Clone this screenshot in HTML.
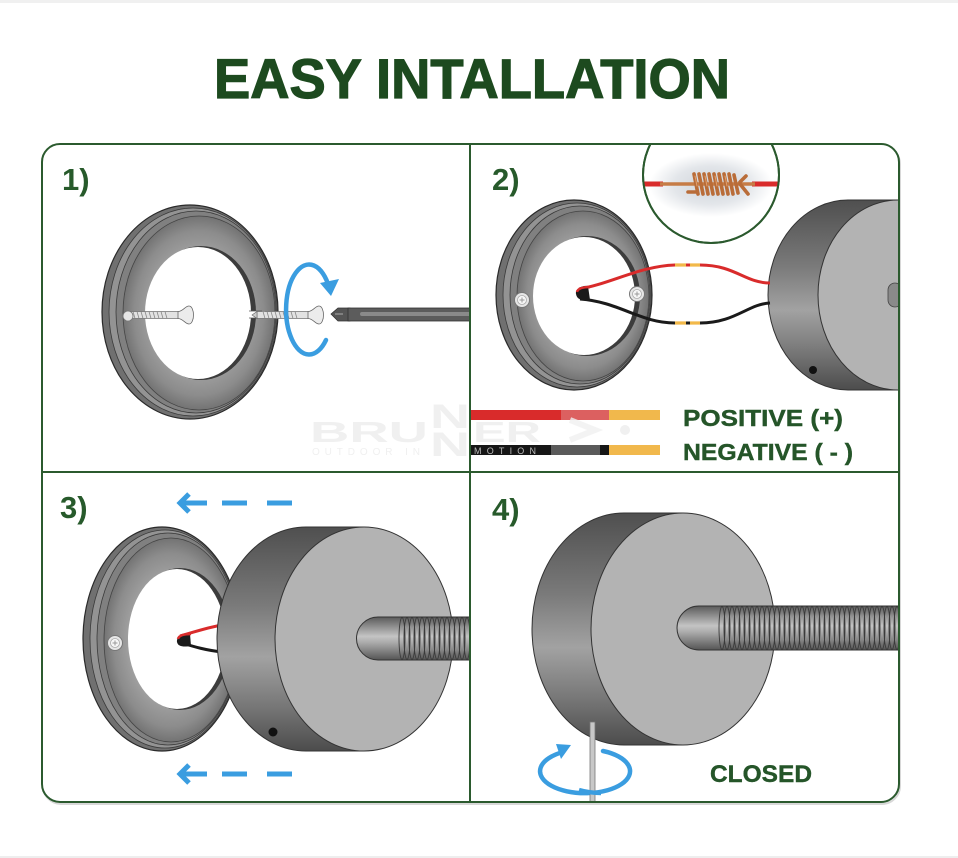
<!DOCTYPE html>
<html><head><meta charset="utf-8"><style>
html,body{margin:0;padding:0;background:#fff;}
svg{display:block;}
</style></head><body>
<svg width="958" height="858" viewBox="0 0 958 858" xmlns="http://www.w3.org/2000/svg">
<defs>
  <clipPath id="box"><rect x="42" y="144" width="857" height="658" rx="18"/></clipPath>
  <clipPath id="p1"><rect x="42" y="144" width="428" height="328"/></clipPath>
  <clipPath id="p2"><rect x="471" y="144" width="428" height="328"/></clipPath>
  <clipPath id="p3"><rect x="42" y="473" width="428" height="329"/></clipPath>
  <clipPath id="p4"><rect x="471" y="473" width="428" height="329"/></clipPath>
  <clipPath id="mag"><rect x="600" y="145" width="220" height="120"/></clipPath>
  <radialGradient id="ringG" cx="0.5" cy="0.5" r="0.5">
    <stop offset="0.6" stop-color="#a2a2a2"/>
    <stop offset="0.85" stop-color="#8c8c8c"/>
    <stop offset="1" stop-color="#737373"/>
  </radialGradient>
  <linearGradient id="sideG" x1="0" y1="0" x2="0" y2="1">
    <stop offset="0" stop-color="#4f4f4f"/>
    <stop offset="0.35" stop-color="#7a7a7a"/>
    <stop offset="0.58" stop-color="#a2a2a2"/>
    <stop offset="0.8" stop-color="#777"/>
    <stop offset="1" stop-color="#4c4c4c"/>
  </linearGradient>
  <linearGradient id="rodG" x1="0" y1="0" x2="0" y2="1">
    <stop offset="0" stop-color="#5a5a5a"/>
    <stop offset="0.45" stop-color="#c4c4c4"/>
    <stop offset="0.6" stop-color="#aaa"/>
    <stop offset="1" stop-color="#555"/>
  </linearGradient>
  <radialGradient id="magG" cx="0.5" cy="0.5" r="0.5">
    <stop offset="0" stop-color="#cfd4da"/>
    <stop offset="0.6" stop-color="#e3e6ea"/>
    <stop offset="1" stop-color="#ffffff"/>
  </radialGradient>
  <g id="screwL">
    <rect x="-62" y="-3.5" width="54" height="7" fill="#e2e2e2" stroke="#6a6a6a" stroke-width="0.7"/>
    <path d="M-56,-3.5 l2,7 M-52,-3.5 l2,7 M-48,-3.5 l2,7 M-44,-3.5 l2,7 M-40,-3.5 l2,7 M-36,-3.5 l2,7 M-32,-3.5 l2,7 M-28,-3.5 l2,7 M-24,-3.5 l2,7" stroke="#888" stroke-width="0.8"/>
    <path d="M-11,-3.5 C-6,-3.5 -4,-9 0,-9 C3,-9 4.5,-4 4.5,0 C4.5,4 3,9 0,9 C-4,9 -6,3.5 -11,3.5 Z" fill="#ececec" stroke="#666" stroke-width="0.8"/>
    <path d="M-62,-3.5 L-67,0 L-62,3.5 Z" fill="#ccc" stroke="#666" stroke-width="0.6"/>
  </g>
  <g id="screwH">
    <circle r="7.5" fill="#e6e6e6" stroke="#777" stroke-width="1"/>
    <circle r="4.5" fill="#f6f6f6" stroke="#aaa" stroke-width="0.8"/>
    <path d="M-2.5,0 H2.5 M0,-2.5 V2.5" stroke="#999" stroke-width="1"/>
  </g>
</defs>

<!-- page frame -->
<rect x="0" y="0" width="958" height="3" fill="#f0f0f0"/>
<rect x="0" y="856" width="958" height="2" fill="#eeeeee"/>

<!-- title -->
<text x="214" y="98" font-family="Liberation Sans, sans-serif" font-weight="bold" font-size="56" fill="#1d4a1f" stroke="#1d4a1f" stroke-width="1.2" textLength="516" lengthAdjust="spacingAndGlyphs">EASY INTALLATION</text>

<!-- shadow -->
<rect x="43" y="146" width="857" height="658" rx="18" fill="none" stroke="#d8d8d8" stroke-width="2"/>

<g clip-path="url(#box)">
<rect x="42" y="144" width="857" height="658" fill="#fff"/>

<!-- ================= PANEL 1 ================= -->
<g clip-path="url(#p1)">
  <!-- watermark -->
  <g fill="#f0f0f0" font-family="Liberation Sans, sans-serif" font-weight="bold">
    <text x="310" y="442" font-size="29" textLength="118" lengthAdjust="spacingAndGlyphs">BRU</text>
    <text x="430" y="428" font-size="34" textLength="40" lengthAdjust="spacingAndGlyphs">N</text>
    <text x="430" y="456" font-size="34" textLength="40" lengthAdjust="spacingAndGlyphs">N</text>
    <text x="312" y="455" font-size="10" font-weight="normal" textLength="108" lengthAdjust="spacing">OUTDOOR IN</text>
  </g>
  <!-- ring -->
  <ellipse cx="190" cy="312" rx="88" ry="107" fill="#707070" stroke="#2a2a2a" stroke-width="1.2"/>
  <ellipse cx="193" cy="312" rx="84" ry="104" fill="#939393" stroke="#3a3a3a" stroke-width="0.8"/>
  <ellipse cx="196" cy="312" rx="80" ry="101" fill="#808080" stroke="#3a3a3a" stroke-width="0.8"/>
  <ellipse cx="199" cy="313" rx="76" ry="97" fill="url(#ringG)" stroke="#444" stroke-width="0.8"/>
  <ellipse cx="201" cy="313" rx="55" ry="67" fill="#3c3c3c"/>
  <ellipse cx="198" cy="313" rx="53" ry="66" fill="#fff"/>
  <!-- slot -->
  <rect x="245" y="311" width="20" height="7" fill="#fff"/>
  <path d="M249,311 H262 M249,318 H262" stroke="#555" stroke-width="0.8"/>
  <!-- screws -->
  <use href="#screwL" x="189" y="315"/>
  <circle cx="128" cy="316" r="5" fill="#e6e6e6" stroke="#777" stroke-width="0.8"/>
  <use href="#screwL" x="319" y="315"/>
  <!-- rotation arrow -->
  <path d="M326,340 A23 45 0 1 1 329,287" fill="none" stroke="#3a9de0" stroke-width="4.5" stroke-linecap="round"/>
  <polygon points="320,283 339,279 331,296" fill="#3a9de0"/>
  <!-- screwdriver -->
  <path d="M331,314 L338,308 L350,308 L350,321 L338,321 Z" fill="#555" stroke="#333" stroke-width="0.8"/>
  <rect x="348" y="308" width="125" height="13" fill="#5c5c5c" stroke="#333" stroke-width="0.8"/>
  <rect x="360" y="312" width="113" height="4" rx="2" fill="#8a8a8a"/>
  <path d="M335,314 L343,314" stroke="#aaa" stroke-width="1"/>
</g>

<!-- ================= PANEL 2 ================= -->
<g clip-path="url(#p2)">
  <!-- watermark part -->
  <g fill="#f0f0f0" font-family="Liberation Sans, sans-serif" font-weight="bold">
    <text x="430" y="428" font-size="34" textLength="40" lengthAdjust="spacingAndGlyphs">N</text>
    <text x="430" y="456" font-size="34" textLength="40" lengthAdjust="spacingAndGlyphs">N</text>
    <text x="473" y="442" font-size="29" textLength="68" lengthAdjust="spacingAndGlyphs">ER</text>
  </g>
  <!-- ring -->
  <ellipse cx="574" cy="295" rx="78" ry="95" fill="#707070" stroke="#2a2a2a" stroke-width="1.2"/>
  <ellipse cx="577" cy="295" rx="74" ry="92" fill="#939393" stroke="#3a3a3a" stroke-width="0.8"/>
  <ellipse cx="580" cy="295" rx="70" ry="89" fill="#808080" stroke="#3a3a3a" stroke-width="0.8"/>
  <ellipse cx="583" cy="296" rx="66" ry="85" fill="url(#ringG)" stroke="#444" stroke-width="0.8"/>
  <ellipse cx="587" cy="296" rx="53" ry="60" fill="#3c3c3c"/>
  <ellipse cx="584" cy="296" rx="51" ry="59" fill="#fff"/>
  <use href="#screwH" x="522" y="300"/>
  <use href="#screwH" x="637" y="294"/>
  <!-- cylinder -->
  <path d="M898,200 L848,200 A80 95 0 0 0 848,390 L898,390 Z" fill="url(#sideG)" stroke="#333" stroke-width="1"/>
  <ellipse cx="898" cy="295" rx="80" ry="95" fill="#b3b3b3" stroke="#333" stroke-width="1"/>
  <rect x="888" y="283" width="14" height="24" rx="7" fill="#8a8a8a" stroke="#444" stroke-width="0.8"/>
  <circle cx="813" cy="370" r="4" fill="#111"/>
  <!-- wires -->
  <path d="M579,289 C610,284 640,266 675,265 L700,265 C735,265 745,283 770,283" fill="none" stroke="#d92b2b" stroke-width="3"/>
  <path d="M580,299 C620,302 640,323 675,323 L700,323 C735,323 748,304 770,303" fill="none" stroke="#1a1a1a" stroke-width="3"/>
  <path d="M675,265 H686 M690,265 H700" stroke="#f2b94a" stroke-width="3.2"/>
  <path d="M675,323 H686 M690,323 H700" stroke="#f2b94a" stroke-width="3.2"/>
  <path d="M588,286 C582,285 575,289 576,294 C577,300 583,301 590,300 Z" fill="#1a1a1a"/>
  <path d="M577,292 C578,288 584,287 590,287" fill="none" stroke="#d92b2b" stroke-width="2.5"/>
  <!-- magnifier -->
  <g clip-path="url(#mag)">
    <circle cx="711" cy="175" r="68" fill="#fff" stroke="#2b5a2e" stroke-width="2"/>
    <ellipse cx="711" cy="185" rx="62" ry="32" fill="url(#magG)"/>
    <path d="M644,184 H663" stroke="#d92b2b" stroke-width="5"/>
    <path d="M752,184 H779" stroke="#d92b2b" stroke-width="5"/>
    <path d="M660,184 H755" stroke="#c67c46" stroke-width="3.5"/>
    <g stroke="#b96c38" stroke-width="3.6" stroke-linecap="round">
      <path d="M694,174 L698,194"/><path d="M699,174 L703,194"/><path d="M704,174 L708,194"/>
      <path d="M709,174 L713,194"/><path d="M714,174 L718,194"/><path d="M719,174 L723,194"/>
      <path d="M724,174 L728,194"/><path d="M729,174 L733,194"/><path d="M734,175 L738,193"/>
      <path d="M688,192 L696,192"/><path d="M740,184 L748,194"/><path d="M740,182 L746,176"/>
    </g>
    <g stroke="#e0a070" stroke-width="1" stroke-linecap="round">
      <path d="M695,176 L697,186"/><path d="M705,176 L707,186"/><path d="M715,176 L717,186"/><path d="M725,176 L727,186"/>
    </g>
  </g>
  <circle cx="711" cy="175" r="68" fill="none" stroke="#2b5a2e" stroke-width="2" clip-path="url(#mag)"/>
  <!-- legend bars -->
  <rect x="471" y="410" width="90" height="10" fill="#d92b2b"/>
  <rect x="561" y="410" width="48" height="10" fill="#dc6060"/>
  <rect x="609" y="410" width="51" height="10" fill="#f1b84c"/>
  <rect x="471" y="445" width="80" height="10" fill="#161616"/>
  <rect x="551" y="445" width="52" height="10" fill="#5a5a5a"/>
  <rect x="600" y="445" width="9" height="10" fill="#161616"/>
  <rect x="609" y="445" width="51" height="10" fill="#f1b84c"/>
  <text x="474" y="454" font-family="Liberation Sans, sans-serif" font-size="9" fill="#bbb" textLength="62" lengthAdjust="spacing">MOTION</text>
  <path d="M570,420 L595,430 L570,440" fill="none" stroke="#f0f0f0" stroke-width="6" opacity="0.8"/>
  <circle cx="625" cy="430" r="5" fill="#f0f0f0"/>
  <text x="683" y="426" font-family="Liberation Sans, sans-serif" font-weight="bold" font-size="23" fill="#255529" stroke="#255529" stroke-width="0.4" textLength="160" lengthAdjust="spacingAndGlyphs">POSITIVE (+)</text>
  <text x="683" y="460" font-family="Liberation Sans, sans-serif" font-weight="bold" font-size="23" fill="#255529" stroke="#255529" stroke-width="0.4" textLength="170" lengthAdjust="spacingAndGlyphs">NEGATIVE ( - )</text>
</g>

<!-- ================= PANEL 3 ================= -->
<g clip-path="url(#p3)">
  <!-- arrows -->
  <g stroke="#3a9de0" stroke-width="5" fill="none" stroke-linecap="butt">
    <path d="M189,494 L180,503 L189,512" stroke-linejoin="miter"/>
    <path d="M181,503 H207 M222,503 H247 M267,503 H292"/>
    <path d="M189,765 L180,774 L189,783"/>
    <path d="M181,774 H207 M222,774 H247 M267,774 H292"/>
  </g>
  <!-- ring -->
  <ellipse cx="162" cy="639" rx="79" ry="112" fill="#707070" stroke="#2a2a2a" stroke-width="1.2"/>
  <ellipse cx="165" cy="639" rx="75" ry="109" fill="#939393" stroke="#3a3a3a" stroke-width="0.8"/>
  <ellipse cx="168" cy="639" rx="71" ry="106" fill="#808080" stroke="#3a3a3a" stroke-width="0.8"/>
  <ellipse cx="171" cy="640" rx="67" ry="102" fill="url(#ringG)" stroke="#444" stroke-width="0.8"/>
  <ellipse cx="180" cy="639" rx="51" ry="71" fill="#3c3c3c"/>
  <ellipse cx="177" cy="639" rx="49" ry="70" fill="#fff"/>
  <use href="#screwH" x="115" y="643"/>
  <!-- wires -->
  <path d="M180,636 C195,632 205,628 222,625" fill="none" stroke="#d92b2b" stroke-width="3"/>
  <path d="M182,643 C195,647 205,650 222,652" fill="none" stroke="#1a1a1a" stroke-width="3"/>
  <path d="M190,634 C183,634 176,637 177,642 C178,647 184,647 191,646 Z" fill="#1a1a1a"/>
  <path d="M178,639 C179,635 185,634 191,634" fill="none" stroke="#d92b2b" stroke-width="2.5"/>
  <!-- cylinder -->
  <path d="M364,527 L306,527 A89 112 0 0 0 306,751 L364,751 Z" fill="url(#sideG)" stroke="#333" stroke-width="1"/>
  <ellipse cx="364" cy="639" rx="89" ry="112" fill="#b3b3b3" stroke="#333" stroke-width="1"/>
  <circle cx="273" cy="732" r="4.5" fill="#111"/>
  <!-- rod -->
  <path d="M378,617 H475 V660 H378 A21.5 21.5 0 0 1 378,617 Z" fill="url(#rodG)" stroke="#333" stroke-width="1"/>
  <g fill="none" stroke="#3a3a3a" stroke-width="0.9">
    <ellipse cx="402" cy="638.5" rx="3" ry="21"/><ellipse cx="407" cy="638.5" rx="3" ry="21"/>
    <ellipse cx="412" cy="638.5" rx="3" ry="21"/><ellipse cx="417" cy="638.5" rx="3" ry="21"/>
    <ellipse cx="422" cy="638.5" rx="3" ry="21"/><ellipse cx="427" cy="638.5" rx="3" ry="21"/>
    <ellipse cx="432" cy="638.5" rx="3" ry="21"/><ellipse cx="437" cy="638.5" rx="3" ry="21"/>
    <ellipse cx="442" cy="638.5" rx="3" ry="21"/><ellipse cx="447" cy="638.5" rx="3" ry="21"/>
    <ellipse cx="452" cy="638.5" rx="3" ry="21"/><ellipse cx="457" cy="638.5" rx="3" ry="21"/>
    <ellipse cx="462" cy="638.5" rx="3" ry="21"/><ellipse cx="467" cy="638.5" rx="3" ry="21"/>
  </g>
</g>

<!-- ================= PANEL 4 ================= -->
<g clip-path="url(#p4)">
  <path d="M683,513 L624,513 A92 116 0 0 0 624,745 L683,745 Z" fill="url(#sideG)" stroke="#333" stroke-width="1"/>
  <ellipse cx="683" cy="629" rx="92" ry="116" fill="#b3b3b3" stroke="#333" stroke-width="1"/>
  <!-- rod -->
  <path d="M699,606 H905 V650 H699 A22 22 0 0 1 699,606 Z" fill="url(#rodG)" stroke="#333" stroke-width="1"/>
  <g fill="none" stroke="#3a3a3a" stroke-width="0.9">
    <ellipse cx="722" cy="628" rx="3" ry="21.5"/><ellipse cx="727" cy="628" rx="3" ry="21.5"/>
    <ellipse cx="732" cy="628" rx="3" ry="21.5"/><ellipse cx="737" cy="628" rx="3" ry="21.5"/>
    <ellipse cx="742" cy="628" rx="3" ry="21.5"/><ellipse cx="747" cy="628" rx="3" ry="21.5"/>
    <ellipse cx="752" cy="628" rx="3" ry="21.5"/><ellipse cx="757" cy="628" rx="3" ry="21.5"/>
    <ellipse cx="762" cy="628" rx="3" ry="21.5"/><ellipse cx="767" cy="628" rx="3" ry="21.5"/>
    <ellipse cx="772" cy="628" rx="3" ry="21.5"/><ellipse cx="777" cy="628" rx="3" ry="21.5"/>
    <ellipse cx="782" cy="628" rx="3" ry="21.5"/><ellipse cx="787" cy="628" rx="3" ry="21.5"/>
    <ellipse cx="792" cy="628" rx="3" ry="21.5"/><ellipse cx="797" cy="628" rx="3" ry="21.5"/>
    <ellipse cx="802" cy="628" rx="3" ry="21.5"/><ellipse cx="807" cy="628" rx="3" ry="21.5"/>
    <ellipse cx="812" cy="628" rx="3" ry="21.5"/><ellipse cx="817" cy="628" rx="3" ry="21.5"/>
    <ellipse cx="822" cy="628" rx="3" ry="21.5"/><ellipse cx="827" cy="628" rx="3" ry="21.5"/>
    <ellipse cx="832" cy="628" rx="3" ry="21.5"/><ellipse cx="837" cy="628" rx="3" ry="21.5"/>
    <ellipse cx="842" cy="628" rx="3" ry="21.5"/><ellipse cx="847" cy="628" rx="3" ry="21.5"/>
    <ellipse cx="852" cy="628" rx="3" ry="21.5"/><ellipse cx="857" cy="628" rx="3" ry="21.5"/>
    <ellipse cx="862" cy="628" rx="3" ry="21.5"/><ellipse cx="867" cy="628" rx="3" ry="21.5"/>
    <ellipse cx="872" cy="628" rx="3" ry="21.5"/><ellipse cx="877" cy="628" rx="3" ry="21.5"/>
    <ellipse cx="882" cy="628" rx="3" ry="21.5"/><ellipse cx="887" cy="628" rx="3" ry="21.5"/>
    <ellipse cx="892" cy="628" rx="3" ry="21.5"/><ellipse cx="897" cy="628" rx="3" ry="21.5"/>
  </g>
  <!-- rotation arrow (back part) -->
  <path d="M603,751 A45 22 0 1 1 563,752" fill="none" stroke="#3a9de0" stroke-width="4.5" stroke-linecap="round"/>
  <polygon points="556,744 571,745 561,759" fill="#3a9de0"/>
  <!-- hex key -->
  <rect x="590" y="722" width="5" height="84" fill="#c8c8c8" stroke="#777" stroke-width="0.8"/>
  <path d="M579,790 A45 22 0 0 0 601,793" fill="none" stroke="#3a9de0" stroke-width="4.5"/>
  <text x="710" y="782" font-family="Liberation Sans, sans-serif" font-weight="bold" font-size="24" fill="#255529" stroke="#255529" stroke-width="0.4" textLength="102" lengthAdjust="spacingAndGlyphs">CLOSED</text>
</g>

<!-- panel numbers -->
<g font-family="Liberation Sans, sans-serif" font-weight="bold" font-size="31" fill="#275a2b">
  <text x="62" y="190">1)</text>
  <text x="492" y="190">2)</text>
  <text x="60" y="518">3)</text>
  <text x="492" y="520">4)</text>
</g>
</g>

<!-- box borders -->
<line x1="470" y1="144" x2="470" y2="802" stroke="#2b5a2e" stroke-width="2"/>
<line x1="42" y1="472" x2="899" y2="472" stroke="#2b5a2e" stroke-width="2"/>
<rect x="42" y="144" width="857" height="658" rx="18" fill="none" stroke="#2b5a2e" stroke-width="2"/>
</svg>
</body></html>
